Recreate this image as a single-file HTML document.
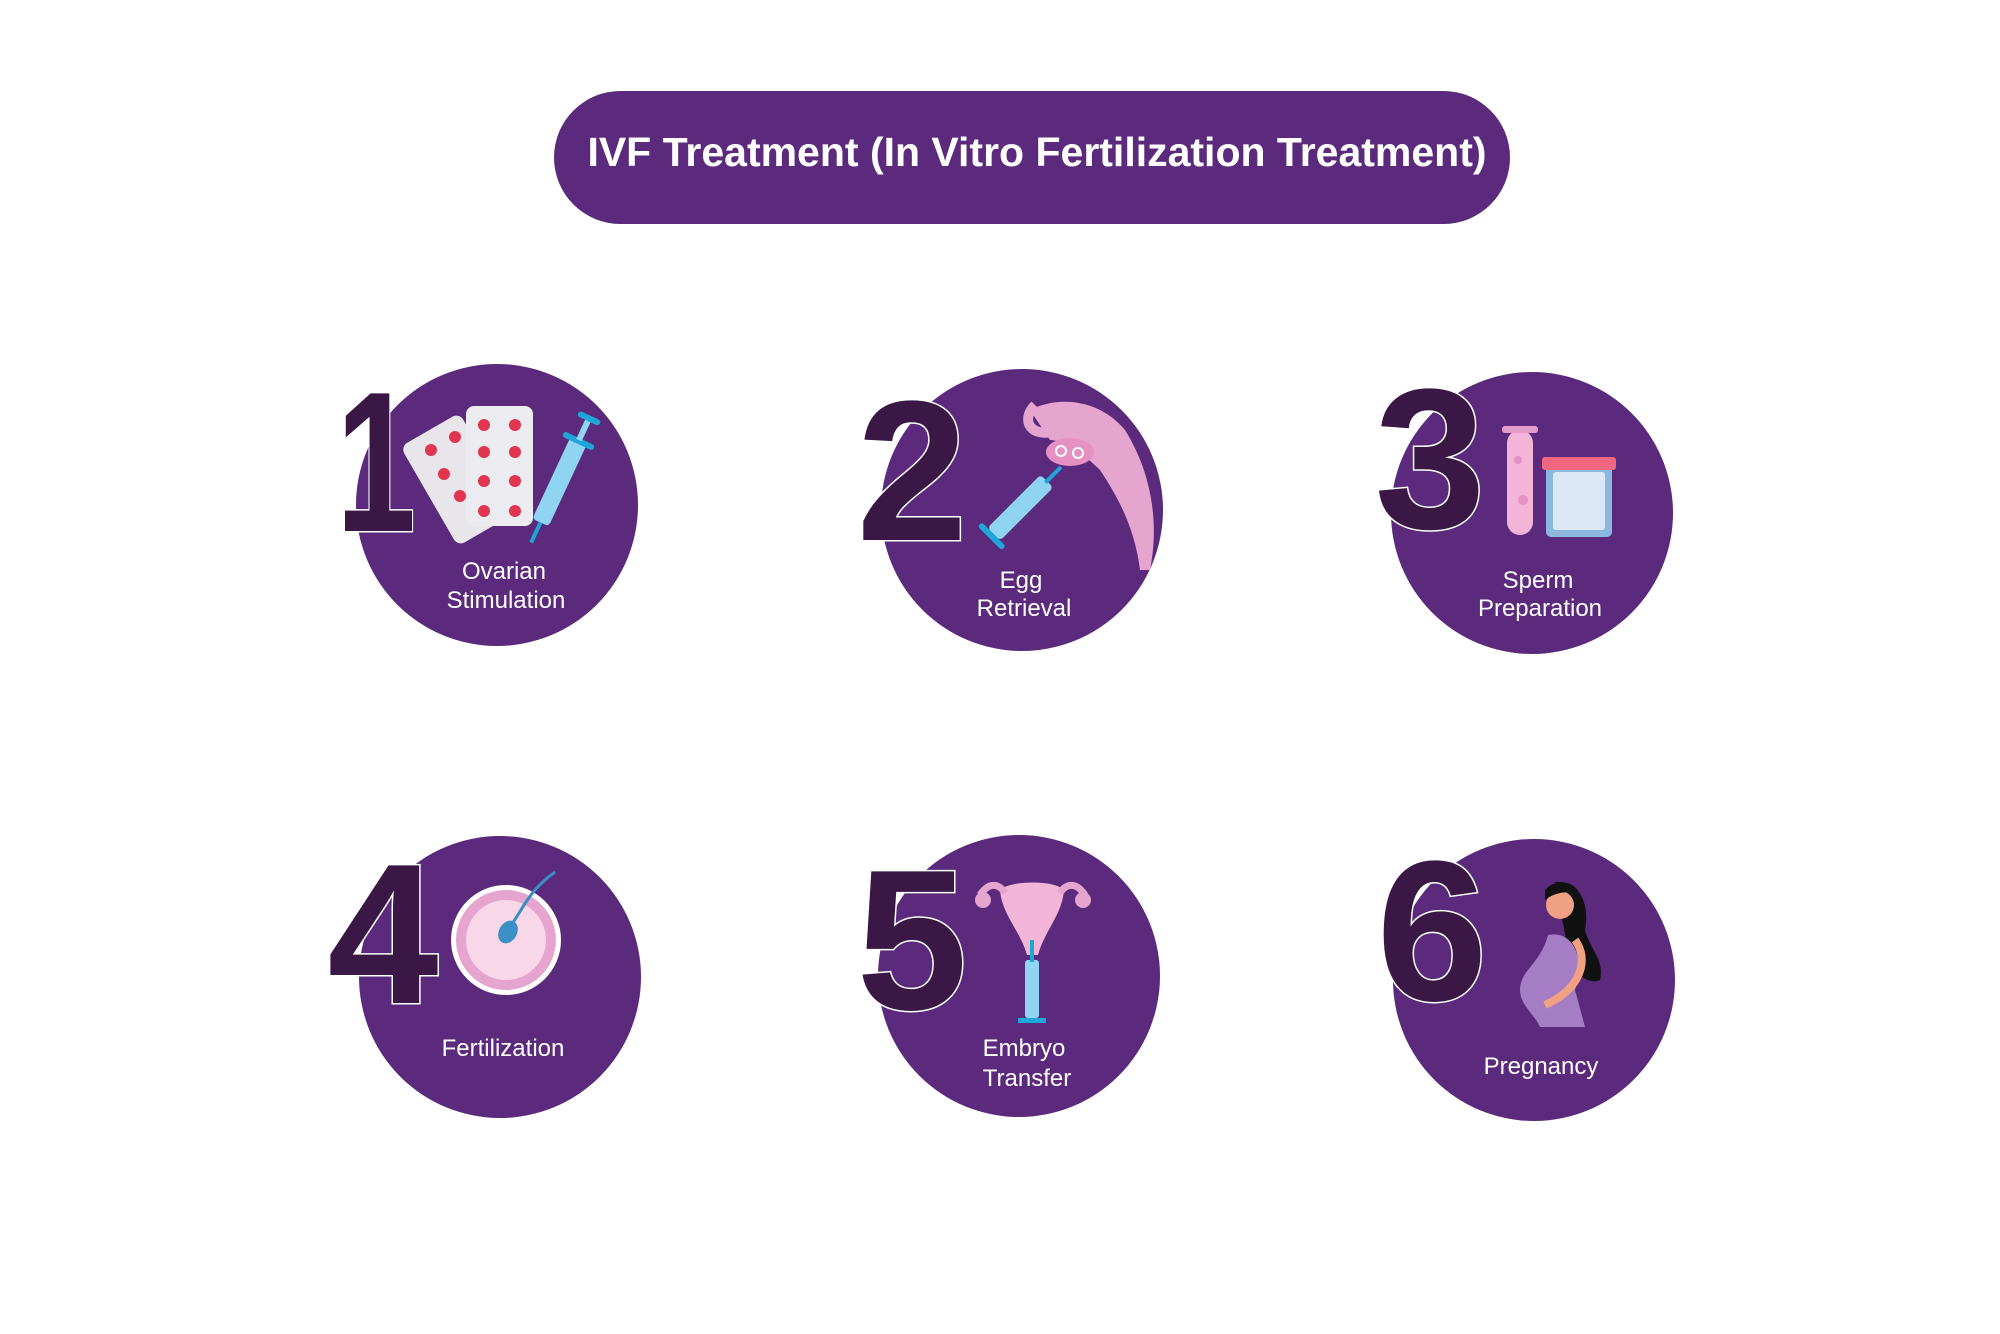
<!DOCTYPE html>
<html><head><meta charset="utf-8"><style>
html,body{margin:0;padding:0;background:#fff}
svg{display:block}
.lbl{font-family:"Liberation Sans",sans-serif;font-size:24px;fill:#fff;text-anchor:middle}
.num{font-family:"Liberation Sans",sans-serif;font-weight:bold;font-size:200px;fill:#3a1744;stroke:#fff;stroke-width:3;paint-order:stroke}
</style></head><body>
<svg width="2000" height="1334" viewBox="0 0 2000 1334">
<rect x="554" y="91" width="956" height="133" rx="66.5" fill="#5b2a7c"/>
<text x="1037" y="166" text-anchor="middle" font-family="Liberation Sans,sans-serif" font-weight="bold" font-size="41" fill="#fff">IVF Treatment (In Vitro Fertilization Treatment)</text>

<g fill="#5b2a7c">
<circle cx="497" cy="505" r="141"/>
<circle cx="1022" cy="510" r="141"/>
<circle cx="1532" cy="513" r="141"/>
<circle cx="500" cy="977" r="141"/>
<circle cx="1019" cy="976" r="141"/>
<circle cx="1534" cy="980" r="141"/>
</g>

<!-- numbers -->
<text class="num" x="376" y="531" text-anchor="middle" transform="translate(376 0) scale(0.72 1) translate(-376 0)">1</text>
<text class="num" x="912" y="540" text-anchor="middle">2</text>
<text class="num" x="1430" y="528" text-anchor="middle">3</text>
<text class="num" x="383" y="1003" text-anchor="middle">4</text>
<text class="num" x="912" y="1009" text-anchor="middle">5</text>
<text class="num" x="1432" y="1000" text-anchor="middle">6</text>

<!-- icon 1: pills + syringe -->
<g transform="rotate(-30 460 470)"><rect x="420" y="420" width="68" height="115" rx="8" fill="#e8e6ea"/></g>
<rect x="466" y="406" width="67" height="120" rx="8" fill="#ecebef"/>
<g fill="#e0344f">
<circle cx="484" cy="425" r="6"/><circle cx="515" cy="425" r="6"/>
<circle cx="484" cy="452" r="6"/><circle cx="515" cy="452" r="6"/>
<circle cx="484" cy="481" r="6"/><circle cx="515" cy="481" r="6"/>
<circle cx="484" cy="511" r="6"/><circle cx="515" cy="511" r="6"/>
<circle cx="431" cy="450" r="6"/><circle cx="455" cy="437" r="6"/><circle cx="444" cy="474" r="6"/><circle cx="460" cy="496" r="6"/>
</g>
<g transform="rotate(25 565 470)">
<rect x="556" y="438" width="18" height="90" rx="4" fill="#8fd4f2"/>
<rect x="548" y="435" width="34" height="6" rx="3" fill="#1fa6d8"/>
<rect x="562" y="415" width="6" height="22" fill="#8fd4f2"/>
<rect x="553" y="410" width="24" height="6" rx="3" fill="#1fa6d8"/>
<rect x="563" y="528" width="4" height="22" fill="#1fa6d8"/>
</g>
<text class="lbl" x="504" y="579">Ovarian</text>
<text class="lbl" x="506" y="608">Stimulation</text>

<!-- icon 2 -->
<path d="M1030 410 C1060 395 1100 400 1125 430 C1150 470 1160 520 1150 570 L1140 570 C1135 530 1120 500 1100 470 C1080 450 1060 440 1050 440 Z" fill="#e6a5cf"/>
<path d="M1035 405 C1020 420 1030 440 1060 430" stroke="#e6a5cf" stroke-width="10" fill="none"/>
<ellipse cx="1070" cy="452" rx="24" ry="14" fill="#e591c3"/>
<circle cx="1061" cy="451" r="5" fill="none" stroke="#fff" stroke-width="2"/><circle cx="1078" cy="453" r="5" fill="none" stroke="#fff" stroke-width="2"/>
<g transform="rotate(45 1020 508)">
<rect x="1011" y="470" width="18" height="75" rx="4" fill="#8fd4f2"/>
<rect x="1003" y="545" width="34" height="6" rx="3" fill="#1fa6d8"/>
<rect x="1018" y="450" width="4" height="22" fill="#1fa6d8"/>
</g>
<text class="lbl" x="1021" y="588">Egg</text>
<text class="lbl" x="1024" y="616">Retrieval</text>

<!-- icon 3 -->
<rect x="1507" y="430" width="26" height="105" rx="13" fill="#f2b5d8"/>
<rect x="1502" y="426" width="36" height="7" rx="3" fill="#e59cc8"/>
<circle cx="1518" cy="460" r="4" fill="#e591c3"/><circle cx="1523" cy="500" r="5" fill="#e591c3"/>
<rect x="1546" y="465" width="66" height="72" rx="5" fill="#8cb8e0"/>
<rect x="1553" y="472" width="52" height="58" rx="3" fill="#dbe9f6"/>
<rect x="1542" y="457" width="74" height="13" rx="3" fill="#f0677f"/>
<text class="lbl" x="1538" y="588">Sperm</text>
<text class="lbl" x="1540" y="616">Preparation</text>

<!-- icon 4 -->
<circle cx="506" cy="940" r="55" fill="#fff"/>
<circle cx="506" cy="940" r="50" fill="#e6a5cf"/>
<circle cx="506" cy="940" r="40" fill="#f8d7e8"/>
<ellipse cx="508" cy="932" rx="9" ry="12" fill="#3b8fc4" transform="rotate(30 508 932)"/>
<path d="M512 924 C525 905 530 890 555 872" stroke="#3b8fc4" stroke-width="3" fill="none"/>
<text class="lbl" x="503" y="1056">Fertilization</text>

<!-- icon 5 -->
<path d="M1000 890 C1010 880 1055 880 1064 890 C1062 915 1045 930 1038 955 L1027 955 C1020 930 1002 915 1000 890 Z" fill="#f2b5d8"/>
<path d="M980 895 C990 880 1000 885 1005 893 M1085 895 C1075 880 1065 885 1060 893" stroke="#e6a5cf" stroke-width="7" fill="none"/>
<circle cx="983" cy="900" r="8" fill="#e6a5cf"/><circle cx="1083" cy="900" r="8" fill="#e6a5cf"/>
<rect x="1025" y="960" width="14" height="58" rx="3" fill="#8fd4f2"/>
<rect x="1018" y="1018" width="28" height="5" fill="#1fa6d8"/>
<rect x="1030" y="940" width="4" height="22" fill="#1fa6d8"/>
<text class="lbl" x="1024" y="1056">Embryo</text>
<text class="lbl" x="1027" y="1086">Transfer</text>

<!-- icon 6 -->
<path d="M1555 882 C1580 880 1590 905 1585 930 C1590 950 1605 960 1600 980 C1590 985 1575 975 1570 960 Z" fill="#111"/>
<circle cx="1560" cy="905" r="14" fill="#f0a083"/>
<path d="M1545 890 C1555 878 1575 880 1580 895 C1570 890 1555 892 1545 900 Z" fill="#111"/>
<path d="M1548 935 C1575 930 1585 960 1575 990 L1585 1027 L1540 1027 C1535 1015 1520 1005 1520 990 C1520 970 1540 965 1548 935 Z" fill="#a57dc4"/>
<path d="M1575 940 C1590 960 1580 990 1545 1005" stroke="#f0a083" stroke-width="8" fill="none"/>
<text class="lbl" x="1541" y="1074">Pregnancy</text>
</svg>
</body></html>
